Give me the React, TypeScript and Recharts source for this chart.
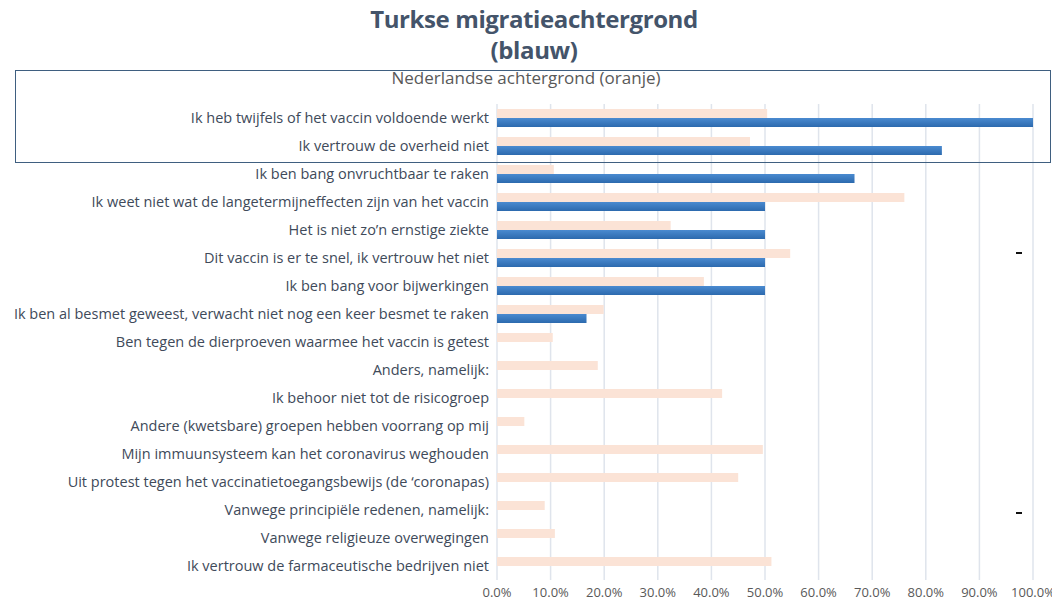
import React from "react";
import { BarChart, Bar, XAxis, YAxis, CartesianGrid } from "recharts";

const categories: string[] = [
  "Ik heb twijfels of het vaccin voldoende werkt",
  "Ik vertrouw de overheid niet",
  "Ik ben bang onvruchtbaar te raken",
  "Ik weet niet wat de langetermijneffecten zijn van het vaccin",
  "Het is niet zo’n ernstige ziekte",
  "Dit vaccin is er te snel, ik vertrouw het niet",
  "Ik ben bang voor bijwerkingen",
  "Ik ben al besmet geweest, verwacht niet nog een keer besmet te raken",
  "Ben tegen de dierproeven waarmee het vaccin is getest",
  "Anders, namelijk:",
  "Ik behoor niet tot de risicogroep",
  "Andere (kwetsbare) groepen hebben voorrang op mij",
  "Mijn immuunsysteem kan het coronavirus weghouden",
  "Uit protest tegen het vaccinatietoegangsbewijs (de ‘coronapas)",
  "Vanwege principiële redenen, namelijk:",
  "Vanwege religieuze overwegingen",
  "Ik vertrouw de farmaceutische bedrijven niet",
];

const nederlands: number[] = [
  0.504, 0.472, 0.106, 0.76, 0.324, 0.547, 0.386, 0.199, 0.104, 0.188, 0.42,
  0.051, 0.496, 0.45, 0.089, 0.108, 0.512,
];

const turks: (number | null)[] = [
  1.0, 0.83, 0.667, 0.5, 0.5, 0.5, 0.5, 0.167, null, null, null, null, null,
  null, null, null, null,
];

const xTicks: number[] = [0, 0.1, 0.2, 0.3, 0.4, 0.5, 0.6, 0.7, 0.8, 0.9, 1.0];

const data = categories.map((name, i) => ({
  name,
  nl: nederlands[i],
  tr: turks[i],
}));

const FONT = "'Open Sans', 'Noto Sans', sans-serif";

export default function App() {
  return (
    <div
      style={{
        position: "absolute",
        left: 0,
        top: 0,
        width: 1052,
        height: 601,
        background: "#ffffff",
        fontFamily: FONT,
        overflow: "hidden",
      }}
    >
      <div
        style={{
          position: "absolute",
          left: 0,
          top: 3,
          width: 1068,
          textAlign: "center",
          fontWeight: 700,
          fontSize: 24,
          lineHeight: "31px",
          color: "#44546a",
          letterSpacing: -0.4,
        }}
      >
        Turkse migratieachtergrond
        <br />
        (blauw)
      </div>
      <BarChart
        width={1052}
        height={601}
        data={data}
        layout="vertical"
        margin={{ top: 104, right: 19, bottom: 0, left: 0 }}
        barGap={0}
        barCategoryGap={5}
      >
        <defs>
          <linearGradient id="blueGrad" x1="0" y1="0" x2="0" y2="1">
            <stop offset="0%" stopColor="#4a8ad0" />
            <stop offset="100%" stopColor="#2c6aae" />
          </linearGradient>
        </defs>
        <CartesianGrid horizontal={false} stroke="#dfe4ec" strokeWidth={1.5} />
        <XAxis
          type="number"
          domain={[0, 1]}
          ticks={xTicks}
          tickFormatter={(v: number) => `${(v * 100).toFixed(1)}%`}
          axisLine={false}
          tickLine={false}
          height={21}
          tick={{ fill: "#595959", fontSize: 13, fontFamily: FONT }}
          interval={0}
        />
        <YAxis
          type="category"
          dataKey="name"
          width={497}
          axisLine={false}
          tickLine={false}
          interval={0}
          tickMargin={2}
          tick={{ fill: "#404a5a", fontSize: 14.5, fontFamily: FONT }}
        />
        <Bar
          dataKey="nl"
          fill="#fbe3d6"
          barSize={9}
          isAnimationActive={false}
        />
        <Bar
          dataKey="tr"
          fill="url(#blueGrad)"
          barSize={9}
          isAnimationActive={false}
        />
      </BarChart>
      <div
        style={{
          position: "absolute",
          left: 15,
          top: 70,
          width: 1034,
          height: 91,
          border: "1.5px solid #3f5f80",
          pointerEvents: "none",
        }}
      />
      <div
        style={{
          position: "absolute",
          left: 0,
          top: 66,
          width: 1052,
          textAlign: "center",
          fontSize: 17,
          color: "#595959",
        }}
      >
        Nederlandse achtergrond (oranje)
      </div>
      <div style={{ position: "absolute", left: 1016, top: 252, width: 6, height: 2, background: "#111" }} />
      <div style={{ position: "absolute", left: 1016, top: 512, width: 6, height: 2, background: "#111" }} />
    </div>
  );
}
